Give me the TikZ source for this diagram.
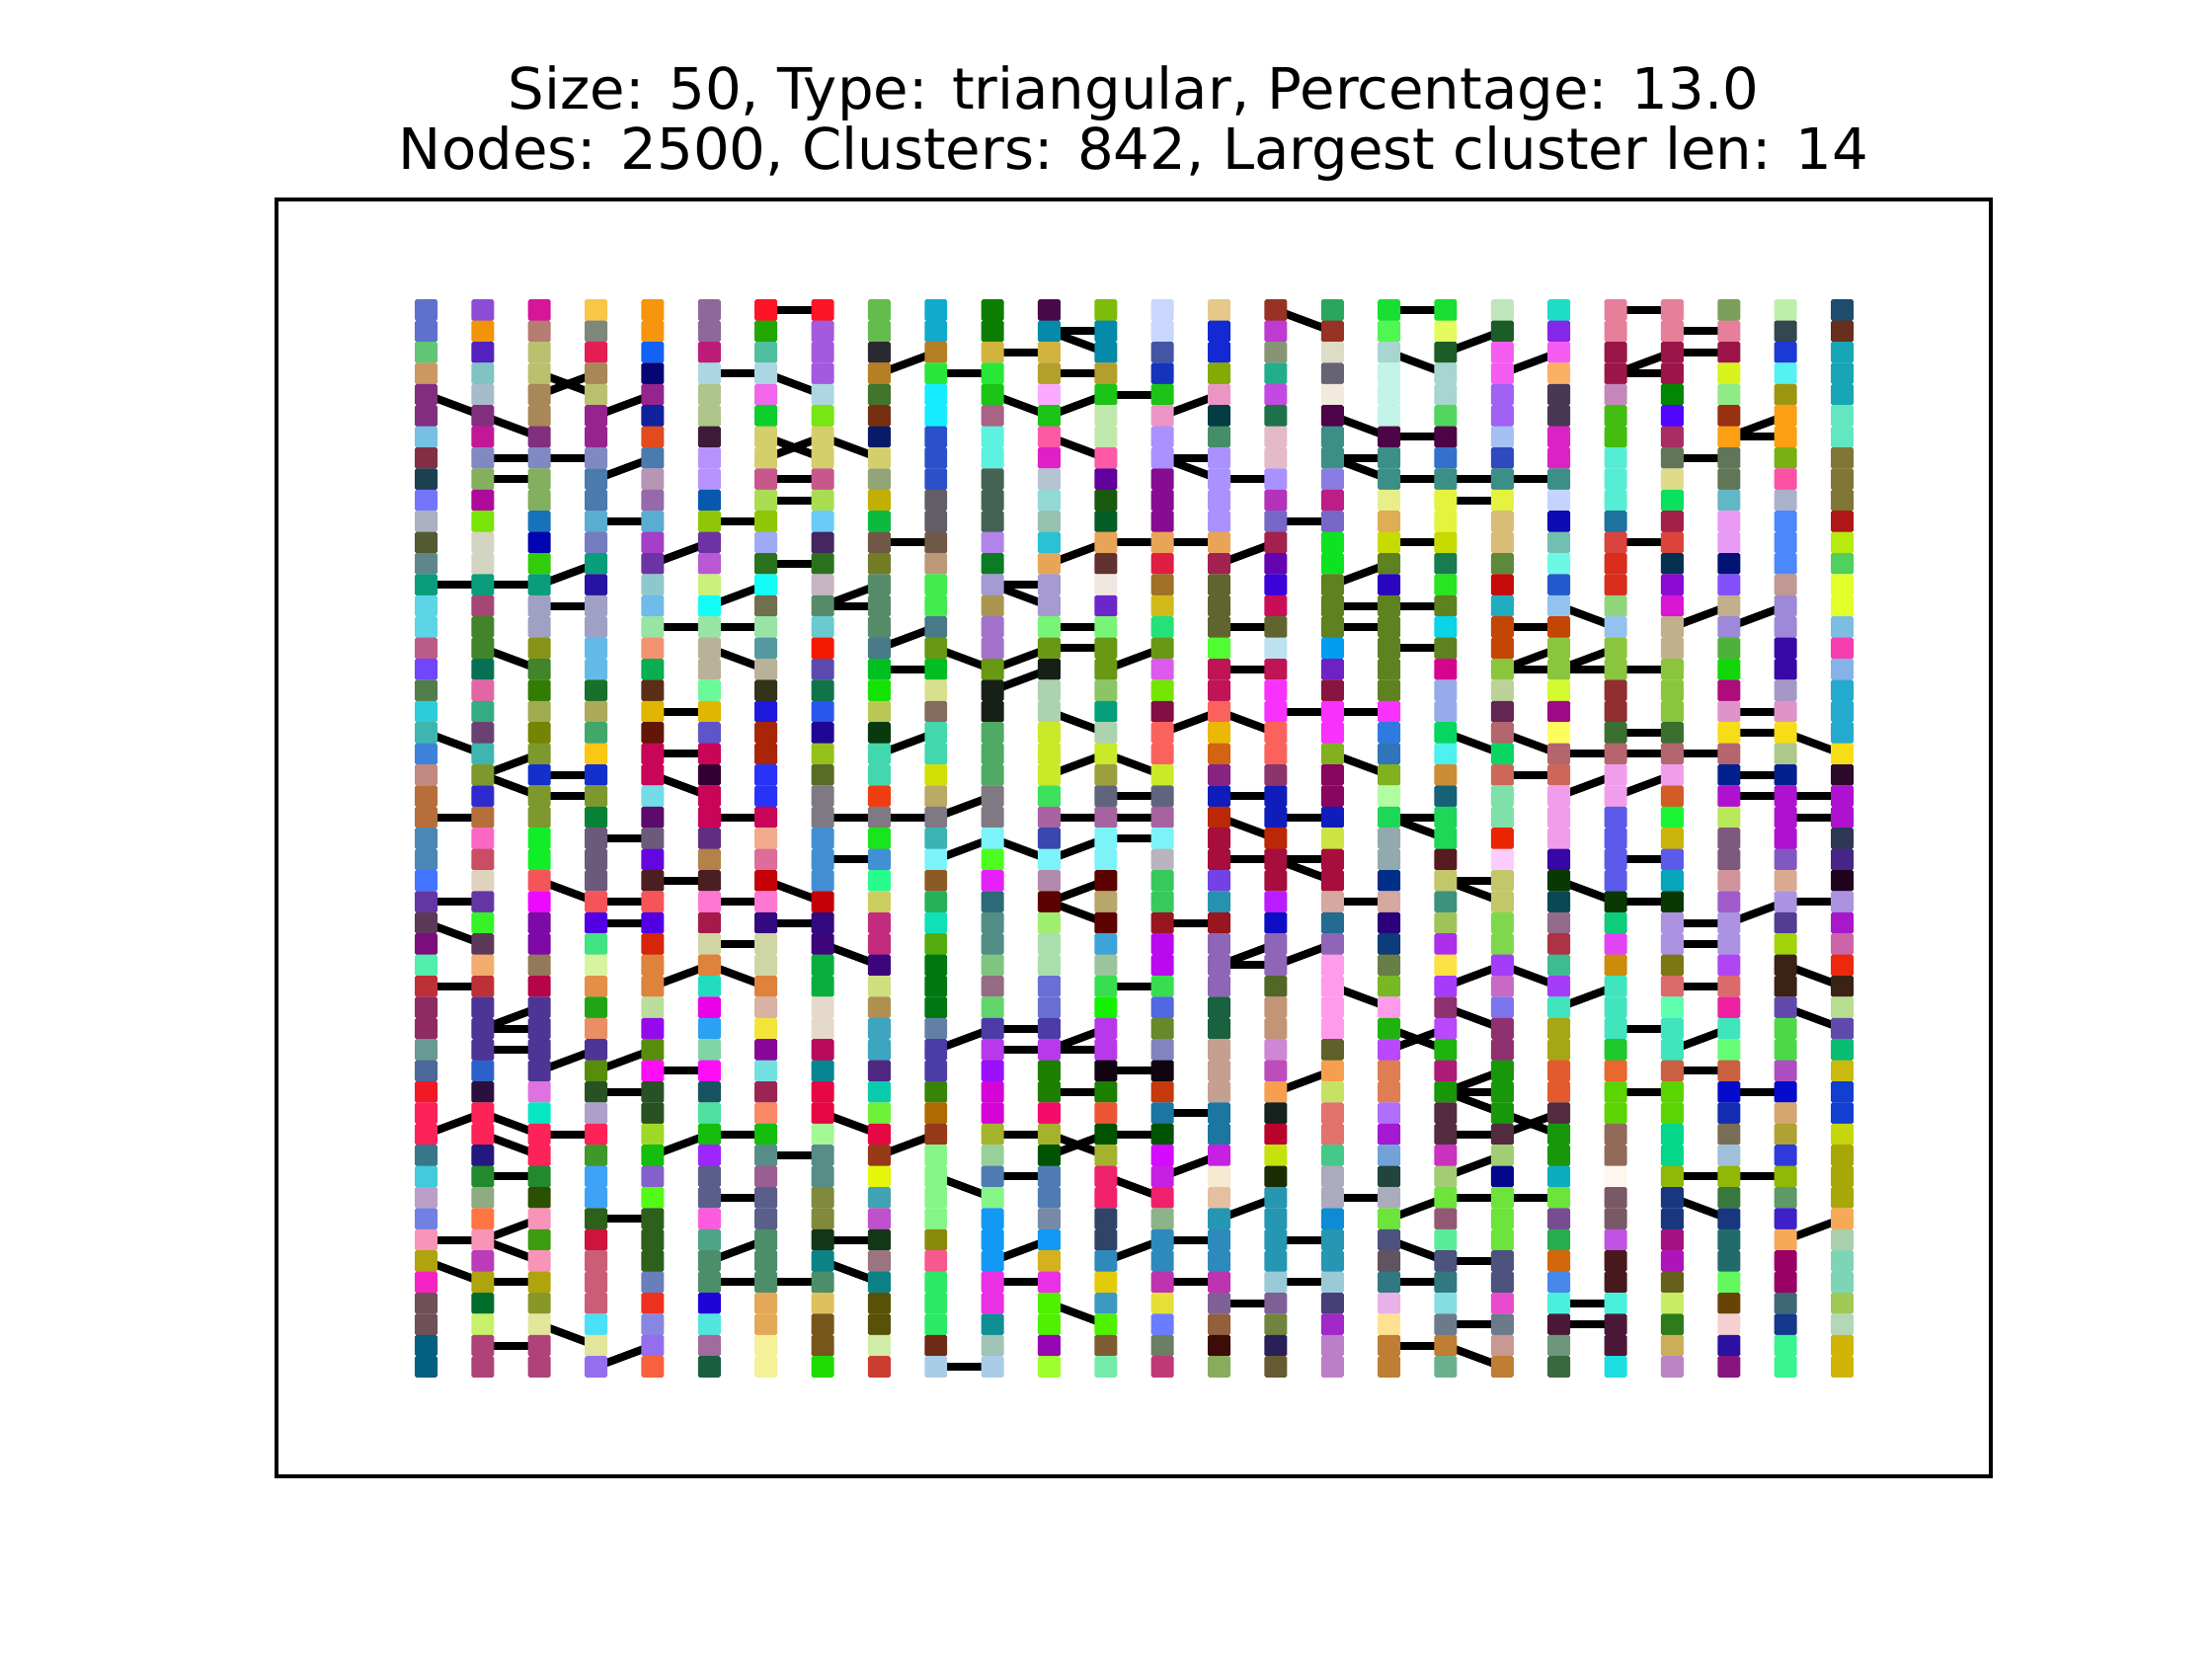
\documentclass[tikz,border=0pt]{standalone}
\usepackage{fontspec}
\setmainfont{DejaVu Sans}
\usepackage{etoolbox}
\pgfdeclarelayer{bg}
\pgfsetlayers{bg,main}
\tikzset{
  cell/.style={rectangle, inner sep=0pt, minimum width=4.73pt, minimum height=4.45pt, rounded corners=0.35pt, draw=none},
  edge/.style={line width=1.65pt, black},
  frame/.style={line width=0.8pt, black},
  ttl/.style={anchor=base, inner sep=0pt, font=\fontsize{11.88}{14.2}\selectfont}
}
\begin{document}
\begin{tikzpicture}[x=0.205714pt, y=-0.205714pt]
\useasboundingbox (0,0) rectangle (2240,1680);
\node[ttl] (t1) at (1148,110) {Size: 50, Type: triangular, Percentage: 13.0};
\node[ttl] (t2) at (1148,171) {Nodes: 2500, Clusters: 842, Largest cluster len: 14};
\draw[frame] (280,201.6) rectangle (2016,1495.2);
\pgfmathsetseed{7}
\gdef\edgecmds{}
\foreach \i in {0,...,25}{
  \foreach \r in {0,...,50}{
    \def\src{}
    \ifnum\i>0
      \pgfmathsetmacro\rnda{rnd}
      \ifdim\rnda pt<0.14pt \edef\src{\r}\else
        \ifdim\rnda pt<0.195pt \ifnum\r>0 \edef\src{\the\numexpr\r-1\relax}\fi\else
          \ifdim\rnda pt<0.25pt \ifnum\r<50 \edef\src{\the\numexpr\r+1\relax}\fi\fi
        \fi
      \fi
    \fi
    \ifx\src\empty
      \pgfmathsetmacro\rndb{rnd}
      \def\copied{0}
      \ifnum\r>0 \ifdim\rndb pt<0.22pt
        \expandafter\xdef\csname col-\i-\r\endcsname{\csname col-\i-\the\numexpr\r-1\relax\endcsname}
        \def\copied{1}
      \fi\fi
      \ifnum\copied=0
        \pgfmathrandominteger\cR{0}{255}
        \pgfmathrandominteger\cG{0}{255}
        \pgfmathrandominteger\cB{0}{255}
        \expandafter\xdef\csname col-\i-\r\endcsname{\cR,\cG,\cB}
      \fi
    \else
      \pgfmathtruncatemacro\im{\i-1}
      \expandafter\xdef\csname col-\i-\r\endcsname{\csname col-\im-\src\endcsname}
      \edef\tmp{\noexpand\draw[edge] (c-\im-\src.center) -- (c-\i-\r.center);}
      \expandafter\gappto\expandafter\edgecmds\expandafter{\tmp}
    \fi
  }
}
\foreach \i in {0,...,25}{
  \foreach \r in {0,...,50}{
    \edef\tmp{\noexpand\definecolor{cc}{RGB}{\csname col-\i-\r\endcsname}}\tmp
    \node[cell, fill=cc] (c-\i-\r) at ({431.5+57.36*\i},{314+21.4*\r}) {};
  }
}
\begin{pgfonlayer}{bg}
\edgecmds
\end{pgfonlayer}
\end{tikzpicture}
\end{document}
